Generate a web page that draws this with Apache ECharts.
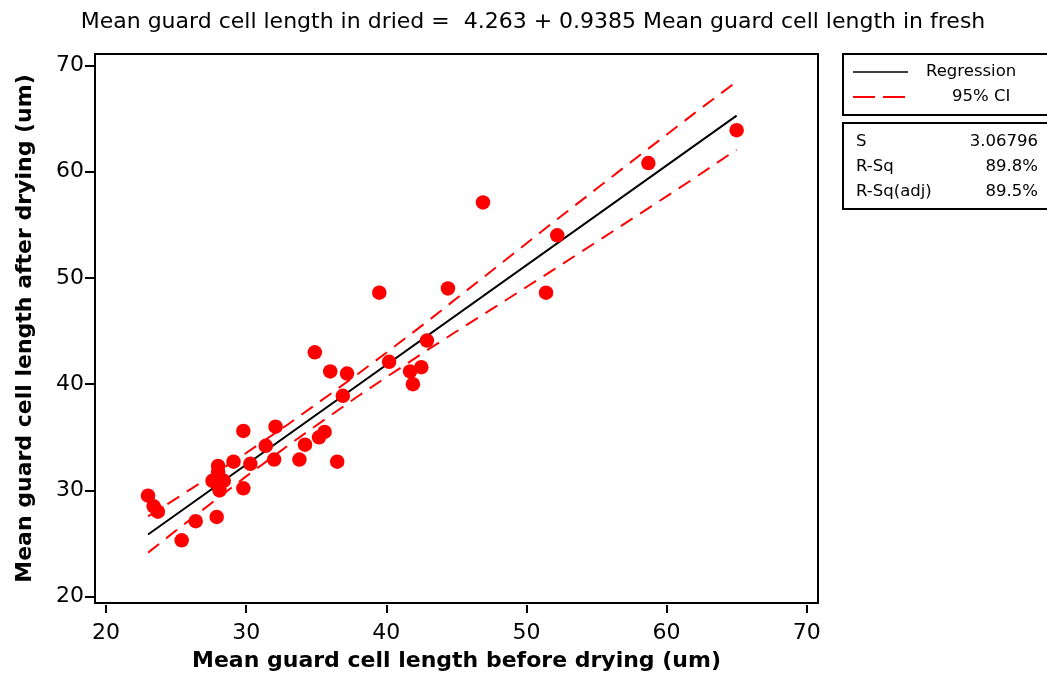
<!DOCTYPE html>
<html>
<head>
<meta charset="utf-8">
<script src="https://cdn.jsdelivr.net/npm/echarts@6/dist/echarts.min.js"></script>
<style>
  html, body { margin: 0; padding: 0; background: #fff; }
  #chart { width: 1047px; height: 677px; }
</style>
</head>
<body>
<div id="chart"></div>
<script>
// fresh (before drying) vs dried (after drying)
const fresh = [23.0, 23.4, 23.7, 25.4, 26.4, 27.9, 28.0, 28.0, 27.8, 28.4,
  28.1, 27.6, 29.1, 29.8, 29.8, 30.3, 31.4, 32.0, 32.1, 34.9,
  36.0, 37.2, 36.9, 40.2, 41.7, 42.5, 41.9, 42.9, 35.6, 35.2,
  34.2, 33.8, 36.5, 46.9, 39.5, 44.4, 51.4, 52.2, 58.7, 65.0];
const dried = [29.5, 28.5, 28.0, 25.3, 27.1, 27.5, 32.3, 31.7, 30.8, 30.9,
  30.0, 30.9, 32.7, 35.6, 30.2, 32.5, 34.2, 32.9, 36.0, 43.0,
  41.2, 41.0, 38.9, 42.1, 41.2, 41.6, 40.0, 44.1, 35.5, 35.0,
  34.3, 32.9, 32.7, 57.1, 48.6, 49.0, 48.6, 54.0, 60.8, 63.9];

// fitted line ends
const fitX = [23, 65];
const fitY = [25.85, 65.27];

// 95% CI bands
const ciX = [23, 25, 28, 30, 33, 35, 38, 40, 43, 45, 48, 50, 52, 55, 58, 60, 62, 65];
const ciUpper = [27.55, 29.23, 31.79, 33.52, 36.23, 38.11, 40.98, 42.95, 45.97, 48.05,
  51.16, 53.24, 55.32, 58.38, 61.45, 63.47, 65.50, 68.47];
const ciLower = [24.15, 26.23, 29.29, 31.32, 34.23, 36.11, 38.88, 40.65, 43.27, 44.95,
  47.46, 49.14, 50.82, 53.38, 55.95, 57.67, 59.40, 62.07];

const ticks = [20, 30, 40, 50, 60, 70];
const statNames = ['S', 'R-Sq', 'R-Sq(adj)'];
const statValues = ['3.06796', '89.8%', '89.5%'];

const font = 'DejaVu Sans';
const zip = (a, b) => a.map((v, i) => [v, b[i]]);

const statText = [];
statNames.forEach((n, i) => {
  statText.push({ type: 'text', style: { text: n, x: 856, y: 142 + i * 25, align: 'left', verticalAlign: 'middle', font: '16.5px ' + font, fill: '#000' } });
  statText.push({ type: 'text', style: { text: statValues[i], x: 1038, y: 142 + i * 25, align: 'right', verticalAlign: 'middle', font: '16.5px ' + font, fill: '#000' } });
});

const option = {
  animation: false,
  title: {
    text: 'Mean guard cell length in dried =  4.263 + 0.9385 Mean guard cell length in fresh',
    left: 528, top: 6, textAlign: 'center',
    textStyle: { fontFamily: font, fontSize: 22, fontWeight: 'normal', color: '#000' }
  },
  grid: { left: 95, top: 54, width: 723, height: 549, show: true, borderColor: '#000', borderWidth: 2 },
  xAxis: {
    type: 'value', min: 19.215, max: 70.806, offset: 2,
    name: 'Mean guard cell length before drying (um)', nameLocation: 'middle', nameGap: 45,
    nameTextStyle: { fontFamily: font, fontSize: 22, fontWeight: 'bold', color: '#000' },
    axisLine: { show: false },
    axisTick: { show: true, length: 8, customValues: ticks, lineStyle: { color: '#000', width: 2 } },
    axisLabel: { customValues: ticks, margin: 17, fontFamily: font, fontSize: 22, color: '#000' },
    splitLine: { show: false }
  },
  yAxis: {
    type: 'value', min: 19.407, max: 71.063, offset: 1,
    name: 'Mean guard cell length after drying (um)', nameLocation: 'middle', nameGap: 58,
    nameTextStyle: { fontFamily: font, fontSize: 22, fontWeight: 'bold', color: '#000' },
    axisLine: { show: false },
    axisTick: { show: true, length: 9, customValues: ticks, lineStyle: { color: '#000', width: 2 } },
    axisLabel: { customValues: ticks, margin: 10, fontFamily: font, fontSize: 22, color: '#000' },
    splitLine: { show: false }
  },
  series: [
    {
      name: 'Regression', type: 'line', data: zip(fitX, fitY), symbol: 'none',
      lineStyle: { color: '#000', width: 2 }, z: 3
    },
    {
      name: 'upper', type: 'line', data: zip(ciX, ciUpper), symbol: 'none',
      lineStyle: { color: '#ff0000', width: 2, type: [14, 9] }, z: 3
    },
    {
      name: 'lower', type: 'line', data: zip(ciX, ciLower), symbol: 'none',
      lineStyle: { color: '#ff0000', width: 2, type: [14, 9] }, z: 3
    },
    {
      name: 'data', type: 'scatter', data: zip(fresh, dried), symbol: 'circle', symbolSize: 14.5,
      itemStyle: { color: '#ff0000', opacity: 1 }, z: 4
    }
  ],
  graphic: [
    { type: 'rect', shape: { x: 843, y: 54, width: 220, height: 61 }, style: { fill: '#fff', stroke: '#000', lineWidth: 2 } },
    { type: 'line', shape: { x1: 853, y1: 72, x2: 908, y2: 72 }, style: { stroke: '#000', lineWidth: 1.6 } },
    { type: 'line', shape: { x1: 853, y1: 97, x2: 906, y2: 97 }, style: { stroke: '#ff0000', lineWidth: 2, lineDash: [22, 8] } },
    { type: 'text', style: { text: 'Regression', x: 926, y: 72, align: 'left', verticalAlign: 'middle', font: '16.5px ' + font, fill: '#000' } },
    { type: 'text', style: { text: '95% CI', x: 952, y: 97, align: 'left', verticalAlign: 'middle', font: '16.5px ' + font, fill: '#000' } },
    { type: 'rect', shape: { x: 843, y: 123, width: 220, height: 86 }, style: { fill: '#fff', stroke: '#000', lineWidth: 2 } }
  ].concat(statText)
};

const chart = echarts.init(document.getElementById('chart'));
chart.setOption(option);
</script>
</body>
</html>
